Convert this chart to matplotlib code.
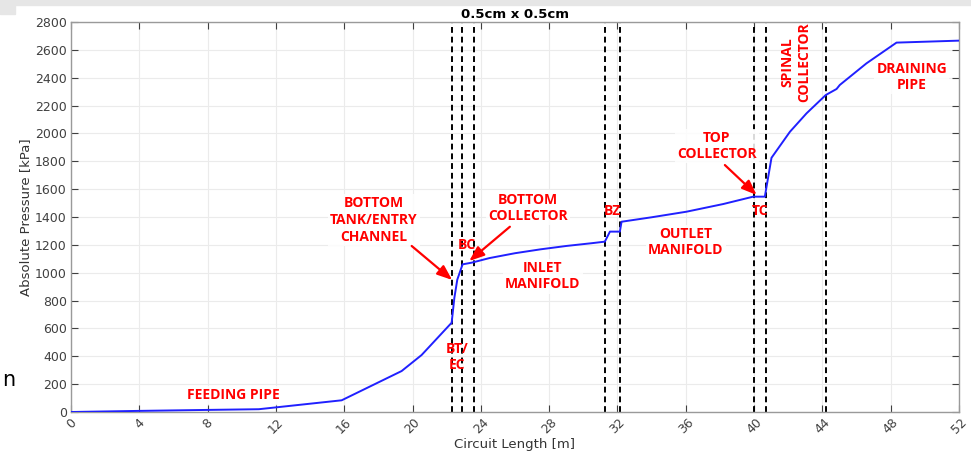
"""Absolute pressure along the circuit, 0.5cm x 0.5cm channel."""
import matplotlib
matplotlib.use("Agg")
import matplotlib.pyplot as plt
from matplotlib.patches import Rectangle

# Pressure profile
circuit_length = [0.0, 2.0, 4.0, 8.0, 11.0, 15.85, 19.36, 20.53, 22.29, 22.45, 22.62,
                  22.93, 23.46, 24.5, 26.0, 27.5, 29.0, 30.5, 31.26, 31.56, 32.14,
                  32.24, 34.0, 36.04, 38.19, 39.95, 40.63, 41.02, 42.1, 43.07, 44.2,
                  44.83, 45.02, 46.58, 48.34, 51.95]
pressure_kpa = [0, 4, 8, 15, 20, 84, 294, 409, 641, 820, 950,
                1060, 1072, 1105, 1140, 1168, 1192, 1212, 1223, 1295, 1295,
                1366, 1398, 1438, 1493, 1546, 1546, 1825, 2012, 2144, 2276,
                2319, 2348, 2503, 2652, 2666]

# Section boundaries (dashed lines)
boundaries = [22.3, 22.9, 23.6, 31.28, 32.16, 39.99, 40.69, 44.2]

# Section labels: text, x, y, rotation, white box behind
section_labels = [
    ("FEEDING PIPE", 9.48, 122, 0, True),
    ("BOTTOM\nTANK/ENTRY\nCHANNEL", 17.74, 1378, 0, True),
    ("BOTTOM\nCOLLECTOR", 26.76, 1465, 0, True),
    ("BC", 23.19, 1199, 0, False),
    ("BT/\nEC", 22.6, 395, 0, False),
    ("INLET\nMANIFOLD", 27.63, 976, 0, True),
    ("BZ", 31.73, 1443, 0, False),
    ("OUTLET\nMANIFOLD", 36.0, 1220, 0, True),
    ("TOP\nCOLLECTOR", 37.82, 1910, 0, True),
    ("TC", 40.34, 1443, 0, False),
    ("SPINAL\nCOLLECTOR", 42.45, 2510, 90, False),
    ("DRAINING\nPIPE", 49.24, 2405, 0, True),
]

# Arrows: (tail x, tail y, head x, head y)
arrows = [
    (19.95, 1192, 22.32, 948),
    (25.70, 1330, 23.32, 1084),
    (38.29, 1773, 40.15, 1558),
]

x_ticks = list(range(0, 53, 4))
y_ticks = list(range(0, 2801, 200))

fig = plt.figure(figsize=(9.71, 4.55), dpi=100)
ax = fig.add_axes([71 / 971, 1 - 412 / 455, 888 / 971, 390 / 455])

# strip at the top of the screenshot
fig.patches.append(Rectangle((15 / 971, 1 - 5 / 455), 1, 5 / 455, transform=fig.transFigure,
                             color="#e6e6e6", zorder=0))
fig.patches.append(Rectangle((0, 1 - 14 / 455), 15 / 971, 14 / 455, transform=fig.transFigure,
                             color="#e6e6e6", zorder=0))
fig.text(0.002, 1 - 380 / 455, "n", fontsize=15, va="center", ha="left", color="black")

ax.plot(circuit_length, pressure_kpa, color="#2020ff", lw=1.4, zorder=3)
for b in boundaries:
    ax.axvline(b, color="black", lw=1.4, linestyle=(0, (3, 2)), zorder=2)

label_font = dict(color="red", fontweight="bold", fontsize=10, family="Open Sans",
                  ha="center", va="center", linespacing=1.25)
for text, x, y, rot, boxed in section_labels:
    box = dict(facecolor="white", edgecolor="none", pad=1.5, alpha=0.85) if boxed else None
    ax.text(x, y, text, rotation=rot, zorder=4, bbox=box, **label_font)

for x0, y0, x1, y1 in arrows:
    ax.annotate("", xy=(x1, y1), xytext=(x0, y0), zorder=5,
                arrowprops=dict(arrowstyle="-|>,head_length=0.9,head_width=0.35",
                                color="red", lw=1.6, shrinkA=0, shrinkB=0))

ax.set_xlim(0, 52)
ax.set_ylim(0, 2800)
ax.set_xticks(x_ticks)
ax.set_yticks(y_ticks)
ax.tick_params(axis="x", rotation=45, labelsize=9, colors="#404040", direction="in",
               top=True, length=5, pad=3)
ax.tick_params(axis="y", labelsize=9, colors="#404040", direction="in",
               right=True, length=5, pad=3)
for lbl in ax.get_xticklabels():
    lbl.set_ha("center")
    lbl.set_va("top")
ax.grid(True, color="#ebebeb", lw=0.8)
ax.set_axisbelow(True)
for sp in ax.spines.values():
    sp.set_color("#9a9a9a")
    sp.set_linewidth(1.0)

ax.set_xlabel("Circuit Length [m]", fontsize=9.5, color="#333333", labelpad=1)
ax.set_ylabel("Absolute Pressure [kPa]", fontsize=9.5, color="#333333", labelpad=2)
ax.set_title("0.5cm x 0.5cm", fontsize=9.5, fontweight="bold", pad=3)

fig.savefig("out.png", dpi=100)
